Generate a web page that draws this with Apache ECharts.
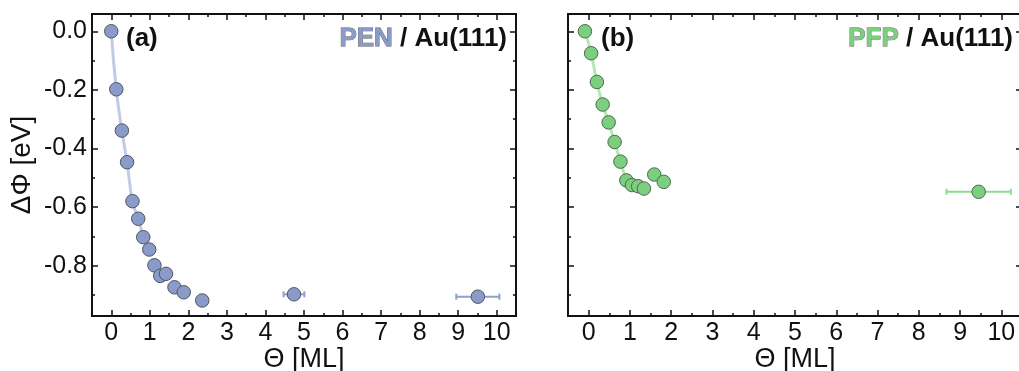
<!DOCTYPE html>
<html>
<head>
<meta charset="utf-8">
<script src="https://cdn.jsdelivr.net/npm/echarts@6/dist/echarts.min.js"></script>
<style>
html,body{margin:0;padding:0;background:#fff;}
#chart{width:1019px;height:371px;}
</style>
</head>
<body>
<div id="chart"></div>
<script>
// ---- data ----
var penTheta = [0, 0.13, 0.275, 0.41, 0.55, 0.70, 0.83, 0.985, 1.12, 1.27, 1.42, 1.64, 1.88, 2.36, 4.74, 9.51];
var penPhi   = [0, -0.198, -0.339, -0.447, -0.58, -0.64, -0.703, -0.745, -0.799, -0.835, -0.828, -0.874, -0.891, -0.919, -0.898, -0.906];
var penErr   = [0, 0, 0, 0, 0, 0, 0, 0, 0, 0, 0, 0, 0, 0, 0.27, 0.56];
var penFitCount = 7;

var pfpTheta = [-0.09, 0.06, 0.20, 0.34, 0.485, 0.63, 0.77, 0.914, 1.05, 1.20, 1.34, 1.59, 1.82, 9.45];
var pfpPhi   = [0, -0.075, -0.173, -0.25, -0.311, -0.378, -0.445, -0.509, -0.525, -0.529, -0.537, -0.489, -0.514, -0.548];
var pfpErr   = [0, 0, 0, 0, 0, 0, 0, 0, 0, 0, 0, 0, 0, 0.78];
var pfpFitCount = 8;

var xMajorTicks = [0, 1, 2, 3, 4, 5, 6, 7, 8, 9, 10];
var xMinorTicks = [-0.5, 0.5, 1.5, 2.5, 3.5, 4.5, 5.5, 6.5, 7.5, 8.5, 9.5, 10.5];
var yMajorTicks = [0.0, -0.2, -0.4, -0.6, -0.8];
var yMinorTicks = [-0.1, -0.3, -0.5, -0.7, -0.9];
var xRange = [-0.5, 10.5];
var yRange = [-0.972, 0.059];

var panelLabels = ['(a)', '(b)'];
var moleculeNames = ['PEN', 'PFP'];
var substrate = ' / Au(111)';
var xName = 'Θ [ML]';
var yName = 'ΔΦ [eV]';

// ---- styles ----
var FONT = 'Liberation Sans, Arial, sans-serif';
var penFill = '#8b9bc9', penLine = '#c2cbe6', penErrC = '#8fa0cf';
var pfpFill = '#7ccf7e', pfpLine = '#b6e6b6', pfpErrC = '#8ddb8f';

var grids = [
  {left: 92, top: 14, width: 424, height: 302, outerBoundsMode: 'none', containLabel: false},
  {left: 568, top: 14, width: 454, height: 302, outerBoundsMode: 'none', containLabel: false}
];

var xAxes = [], yAxes = [];
function addX(gi, pos, ticks, len, labels) {
  xAxes.push({
    gridIndex: gi, type: 'value', position: pos, min: xRange[0], max: xRange[1],
    name: (labels ? xName : ''), nameLocation: 'middle', nameGap: 30, nameMoveOverlap: false,
    nameTextStyle: {fontFamily: FONT, fontSize: 27, color: '#111'},
    axisLine: {show: true, onZero: false, lineStyle: {color: '#111', width: 1.8}},
    axisTick: {show: true, inside: true, length: len, customValues: ticks, lineStyle: {color: '#111', width: 1.5}},
    axisLabel: {show: !!labels, customValues: xMajorTicks, margin: 5, fontFamily: FONT, fontSize: 25, color: '#111', hideOverlap: false},
    splitLine: {show: false}
  });
}
function addY(gi, pos, ticks, len, labels) {
  yAxes.push({
    gridIndex: gi, type: 'value', position: pos, min: yRange[0], max: yRange[1],
    name: (labels ? yName : ''), nameLocation: 'middle', nameGap: 56, nameRotate: 90, nameMoveOverlap: false,
    nameTextStyle: {fontFamily: FONT, fontSize: 28, color: '#111'},
    axisLine: {show: true, onZero: false, lineStyle: {color: '#111', width: 1.8}},
    axisTick: {show: true, inside: true, length: len, customValues: ticks, lineStyle: {color: '#111', width: 1.5}},
    axisLabel: {show: !!labels, customValues: yMajorTicks, margin: 5, fontFamily: FONT, fontSize: 25, color: '#111',
      formatter: function (v) { return v.toFixed(1); }},
    splitLine: {show: false}
  });
}
for (var g = 0; g < 2; g++) {
  addX(g, 'bottom', xMajorTicks, 6, true);   // index 4g+0
  addX(g, 'bottom', xMinorTicks, 3, false);  // 4g+1
  addX(g, 'top', xMajorTicks, 6, false);     // 4g+2
  addX(g, 'top', xMinorTicks, 3, false);     // 4g+3
  addY(g, 'left', yMajorTicks, 6, g === 0);
  addY(g, 'left', yMinorTicks, 3, false);
  addY(g, 'right', yMajorTicks, 6, false);
  addY(g, 'right', yMinorTicks, 3, false);
}

function pairs(xs, ys, n) {
  var out = [];
  for (var i = 0; i < (n || xs.length); i++) out.push([xs[i], ys[i]]);
  return out;
}
function errData(xs, ys, es) {
  var out = [];
  for (var i = 0; i < xs.length; i++) if (es[i] > 0) out.push([xs[i], ys[i], es[i]]);
  return out;
}
function errSeries(gi, data, color) {
  return {
    type: 'custom', xAxisIndex: gi * 4, yAxisIndex: gi * 4, z: 2, silent: true,
    data: data,
    renderItem: function (params, api) {
      var x = api.value(0), y = api.value(1), e = api.value(2);
      var p1 = api.coord([x - e, y]), p2 = api.coord([x + e, y]);
      var st = {stroke: color, lineWidth: 2};
      return {type: 'group', children: [
        {type: 'line', shape: {x1: p1[0], y1: p1[1], x2: p2[0], y2: p2[1]}, style: st},
        {type: 'line', shape: {x1: p1[0], y1: p1[1] - 3, x2: p1[0], y2: p1[1] + 3}, style: st},
        {type: 'line', shape: {x1: p2[0], y1: p2[1] - 3, x2: p2[0], y2: p2[1] + 3}, style: st}
      ]};
    }
  };
}

var series = [
  {type: 'line', xAxisIndex: 0, yAxisIndex: 0, data: pairs(penTheta, penPhi, penFitCount), smooth: true,
   showSymbol: false, lineStyle: {color: penLine, width: 3}, z: 1, silent: true},
  errSeries(0, errData(penTheta, penPhi, penErr), penErrC),
  {type: 'scatter', xAxisIndex: 0, yAxisIndex: 0, data: pairs(penTheta, penPhi), symbolSize: 13.5, z: 3,
   itemStyle: {color: penFill, borderColor: '#4f5566', borderWidth: 1, opacity: 1}},
  {type: 'line', xAxisIndex: 4, yAxisIndex: 4, data: pairs(pfpTheta, pfpPhi, pfpFitCount), smooth: true,
   showSymbol: false, lineStyle: {color: pfpLine, width: 3}, z: 1, silent: true},
  errSeries(1, errData(pfpTheta, pfpPhi, pfpErr), pfpErrC),
  {type: 'scatter', xAxisIndex: 4, yAxisIndex: 4, data: pairs(pfpTheta, pfpPhi), symbolSize: 13.5, z: 3,
   itemStyle: {color: pfpFill, borderColor: '#4c6a4c', borderWidth: 1, opacity: 1}}
];

function labelText(x, y, text, align) {
  return {type: 'text', x: x, y: y, z: 10,
    style: {text: text, textAlign: align, textVerticalAlign: 'middle', fontFamily: FONT, fontSize: 26, fontWeight: 'bold', fill: '#111'}};
}
function moleculeText(x, y, name, fill) {
  return {type: 'text', x: x, y: y, z: 10,
    style: {text: '{m|' + name + '}{s|' + substrate + '}', textAlign: 'right', textVerticalAlign: 'middle',
      fontFamily: FONT, fontSize: 26, fontWeight: 'bold',
      rich: {
        m: {fontFamily: FONT, fontSize: 26, fontWeight: 'bold', fill: fill, stroke: '#555', lineWidth: 0.8},
        s: {fontFamily: FONT, fontSize: 26, fontWeight: 'bold', fill: '#111'}
      }}};
}

var chart = echarts.init(document.getElementById('chart'), null, {renderer: 'canvas'});
chart.setOption({
  animation: false,
  backgroundColor: '#fff',
  grid: grids,
  xAxis: xAxes,
  yAxis: yAxes,
  series: series,
  graphic: [
    labelText(126, 39, panelLabels[0], 'left'),
    labelText(601, 39, panelLabels[1], 'left'),
    moleculeText(507, 39, moleculeNames[0], penFill),
    moleculeText(1013, 39, moleculeNames[1], pfpFill)
  ]
});
</script>
</body>
</html>
